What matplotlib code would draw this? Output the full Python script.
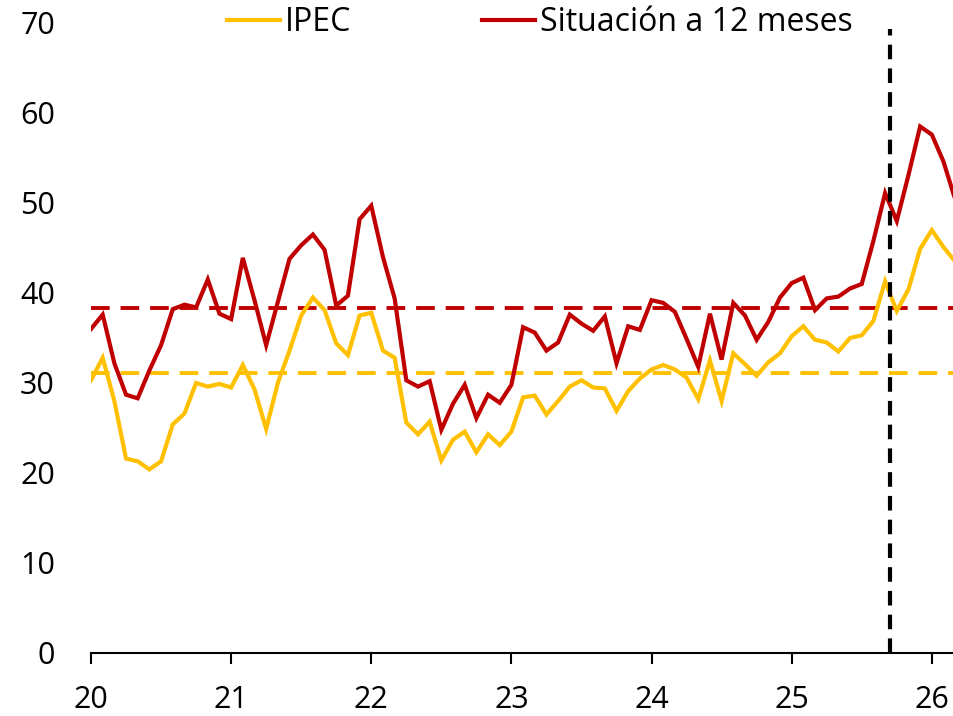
import numpy as np
import matplotlib
matplotlib.use("Agg")
import matplotlib.pyplot as plt

# ---- data (monthly, Jan 2020 onward) ----
situacion_12m = [36.0, 37.6, 32.2, 28.7, 28.3, 31.4, 34.2, 38.2, 38.7, 38.4, 41.5, 37.7,
                 37.1, 43.9, 39.2, 34.2, 39.0, 43.8, 45.3, 46.5, 44.8, 38.6, 39.7, 48.2,
                 49.7, 44.0, 39.4, 30.3, 29.6, 30.2, 24.8, 27.7, 29.8, 26.1, 28.7, 27.8,
                 29.8, 36.2, 35.6, 33.6, 34.5, 37.6, 36.6, 35.8, 37.4, 32.2, 36.3, 35.9,
                 39.2, 38.9, 37.9, 34.9, 31.8, 37.7, 32.6, 38.9, 37.5, 34.8, 36.8, 39.5,
                 41.1, 41.7, 38.1, 39.4, 39.6, 40.5, 41.0, 45.8, 51.1, 48.0, 53.1, 58.5,
                 57.6, 54.6, 50.4]
ipec = [30.3, 32.8, 28.0, 21.6, 21.3, 20.4, 21.3, 25.4, 26.6, 30.0, 29.6, 29.9,
        29.5, 32.0, 29.3, 24.9, 30.0, 33.6, 37.5, 39.5, 38.1, 34.4, 33.1, 37.5,
        37.8, 33.6, 32.8, 25.6, 24.3, 25.7, 21.4, 23.7, 24.6, 22.3, 24.3, 23.1,
        24.6, 28.4, 28.6, 26.5, 28.0, 29.6, 30.3, 29.5, 29.4, 26.9, 29.1, 30.5,
        31.5, 32.0, 31.5, 30.6, 28.2, 32.5, 28.0, 33.3, 32.1, 30.8, 32.3, 33.3,
        35.2, 36.3, 34.8, 34.5, 33.5, 35.0, 35.3, 36.9, 41.3, 38.0, 40.4, 44.9,
        47.0, 45.1, 43.5]
mean_situacion = 38.3
mean_ipec = 31.1
event_month = 68.4  # vertical marker position (months since Jan 2020)
year_labels = ["20", "21", "22", "23", "24", "25", "26"]
y_ticks = [0, 10, 20, 30, 40, 50, 60, 70]

YELLOW = "#FFC000"
RED = "#C00000"

plt.rcParams['font.family'] = ['Open Sans', 'DejaVu Sans']

fig = plt.figure(figsize=(9.54, 7.16), dpi=100)
ax = fig.add_axes([91/954, 1-653/716, 1-91/954, (653-23)/716])

x = np.arange(len(ipec))
ax.plot(x, ipec, color=YELLOW, lw=3.0, label="IPEC", solid_joinstyle='miter', zorder=3)
ax.plot(x, situacion_12m, color=RED, lw=3.0, label="Situación a 12 meses",
        solid_joinstyle='miter', zorder=4)
ax.axhline(mean_situacion, color=RED, lw=2.8, ls=(0, (4.8, 2.8)), zorder=2)
ax.axhline(mean_ipec, color=YELLOW, lw=2.8, ls=(0, (4.8, 2.8)), zorder=2)
ax.axvline(event_month, color="black", lw=3.0, ls=(0, (3.5, 2.2)), ymax=0.99, zorder=5)

ax.set_xlim(0, 73.9)
ax.set_ylim(0, 70)
ax.set_xticks(np.arange(len(year_labels)) * 12)
ax.set_xticklabels(year_labels)
ax.set_yticks(y_ticks)

for s in ["top", "right", "left"]:
    ax.spines[s].set_visible(False)
ax.spines["bottom"].set_linewidth(1.5)
ax.spines["bottom"].set_color("black")
ax.tick_params(axis='x', direction='out', length=8, width=1.5, pad=15, labelsize=22)
ax.tick_params(axis='y', length=0, pad=26, labelsize=22)

leg = fig.legend(loc='center', bbox_to_anchor=(0.566, 0.969), ncol=2, frameon=False,
                 fontsize=23, handlelength=1.65, handletextpad=0.15, columnspacing=4.1,
                 borderaxespad=0, borderpad=0)
for line in leg.get_lines():
    line.set_linewidth(3.0)

fig.savefig("out.png", dpi=100)
